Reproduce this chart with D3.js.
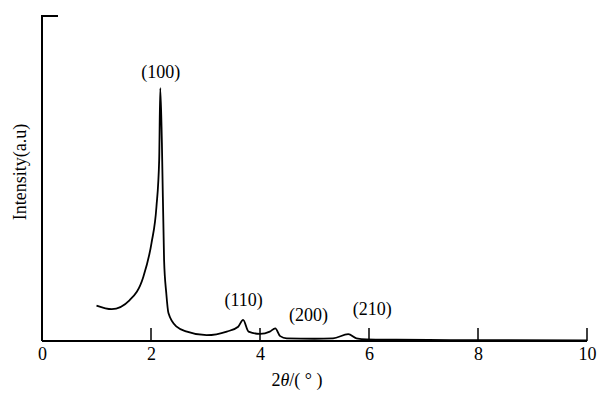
<!DOCTYPE html>
<html><head><meta charset="utf-8">
<script src="https://cdn.jsdelivr.net/npm/d3@7"></script>
<style>body{margin:0;background:#fff}svg{display:block}</style>
</head><body><svg id="c" width="614" height="404"></svg>
<script>
const twoTheta = [1.00,1.28,1.61,1.86,2.01,2.10,2.15,2.17,2.20,2.24,2.28,2.32,2.47,2.66,3.02,3.39,3.60,3.69,3.79,4.00,4.18,4.28,4.37,4.49,5.00,5.34,5.62,5.77,5.96,6.5,7.5,8.5,10.0];
const intensity = [10.9,9.8,12.6,19.8,30.2,41.3,55.7,77.8,60.9,24.9,14.8,8.6,4.4,2.9,1.8,2.9,4.4,6.5,2.9,2.2,2.9,3.9,1.5,0.8,0.7,0.8,2.1,0.8,0.5,0.4,0.3,0.25,0.2];
const xTicks = [0,2,4,6,8,10];
const peakLabels = ["(100)","(110)","(200)","(210)"];
const peakLabelX = [2.18,3.70,4.89,6.06];
const peakLabelY = [81,10.8,6.2,8];

const FONT = "'Liberation Serif','Times New Roman',serif";
const svg = d3.select("#c");
const x = d3.scaleLinear().domain([0,10]).range([42,587]);
const y = d3.scaleLinear().domain([0,100]).range([341,16]);

// x axis
const xa = svg.append("g").attr("transform","translate(0,341)")
  .call(d3.axisBottom(x).tickValues(xTicks).tickSize(0).tickPadding(0).tickFormat(d3.format("d")));
xa.attr("font-family",FONT).attr("font-size",18);
xa.select(".domain").remove();
xa.selectAll("text").attr("dy",null).attr("y",19).attr("fill","#000");
svg.append("line").attr("x1",x(0)).attr("x2",x(10)).attr("y1",y(0)).attr("y2",y(0)).attr("stroke","#000").attr("stroke-width",2);
svg.selectAll(".tk").data(xTicks.filter(d=>d>0)).join("line")
  .attr("x1",d=>x(d)).attr("x2",d=>x(d)).attr("y1",y(0)).attr("y2",y(0)-13).attr("stroke","#000").attr("stroke-width",1.5);

// y axis
svg.append("line").attr("x1",x(0)).attr("x2",x(0)).attr("y1",y(0)).attr("y2",y(100)).attr("stroke","#000").attr("stroke-width",2);
svg.append("line").attr("x1",x(0)-1).attr("x2",x(0)+16).attr("y1",y(100)).attr("y2",y(100)).attr("stroke","#000").attr("stroke-width",2);

// curve
const pts = twoTheta.map((d,i)=>[d,intensity[i]]);
svg.append("path").datum(pts)
  .attr("d", d3.line().x(d=>x(d[0])).y(d=>y(d[1])).curve(d3.curveMonotoneX))
  .attr("fill","none").attr("stroke","#000").attr("stroke-width",1.8);

// peak labels
svg.selectAll(".pl").data(peakLabels).join("text")
  .attr("x",(d,i)=>x(peakLabelX[i])).attr("y",(d,i)=>y(peakLabelY[i]))
  .attr("text-anchor","middle").attr("font-family",FONT).attr("font-size",18).text(d=>d);

// titles
const xt = svg.append("text").attr("x",297).attr("y",386).attr("text-anchor","middle").attr("font-family",FONT).attr("font-size",18);
xt.append("tspan").text("2");
xt.append("tspan").attr("font-style","italic").text("θ");
xt.append("tspan").text("/( ° )");
svg.append("text").attr("transform","translate(26,172) rotate(-90)").attr("text-anchor","middle").attr("font-family",FONT).attr("font-size",18).text("Intensity(a.u)");
</script></body></html>
